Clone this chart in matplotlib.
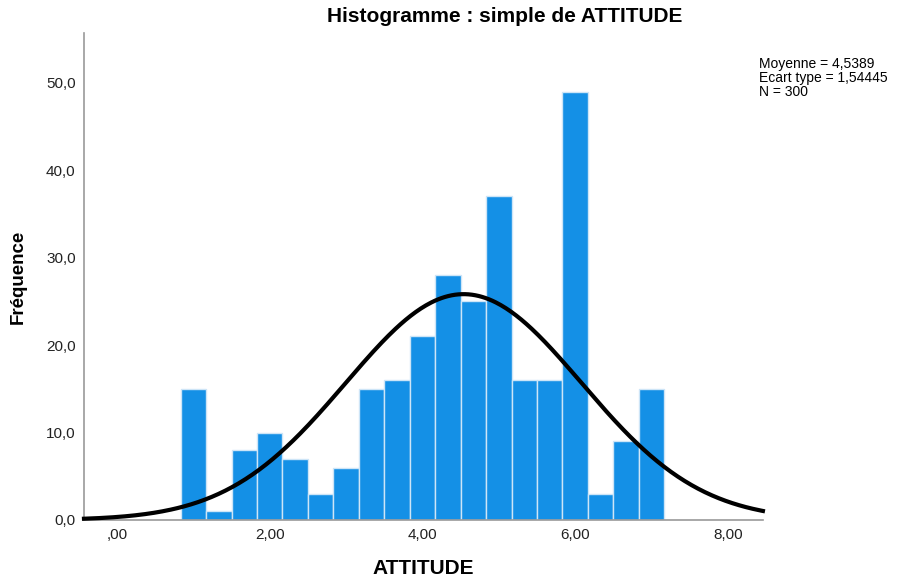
import numpy as np
import matplotlib.pyplot as plt

plt.rcParams['font.family'] = ['Liberation Sans', 'DejaVu Sans']

# bin centres (width 1/3) and counts for ATTITUDE
bin_centres = [1.0, 1.3333, 1.6667, 2.0, 2.3333, 2.6667, 3.0, 3.3333, 3.6667, 4.0,
               4.3333, 4.6667, 5.0, 5.3333, 5.6667, 6.0, 6.3333, 6.6667, 7.0]
counts = [15, 1, 8, 10, 7, 3, 6, 15, 16, 21, 28, 25, 37, 16, 16, 49, 3, 9, 15]
bin_width = 1 / 3

mean = 4.5389
sd = 1.54445
n = 300

xticks = [0, 2, 4, 6, 8]
xtick_labels = [',00', '2,00', '4,00', '6,00', '8,00']
yticks = [0, 10, 20, 30, 40, 50]
ytick_labels = ['0,0', '10,0', '20,0', '30,0', '40,0', '50,0']

fig = plt.figure(figsize=(9.05, 5.84), dpi=100)
ax = fig.add_axes([0.0928, 0.1096, 0.7502, 0.8339])

ax.bar(bin_centres, counts, width=bin_width, color='#1490e6',
       edgecolor='#cde5f7', linewidth=1.0, zorder=2)

# normal curve scaled to counts
xlim = (-0.432, 8.458)
xs = np.linspace(xlim[0], xlim[1], 400)
ys = n * bin_width / (sd * np.sqrt(2 * np.pi)) * np.exp(-0.5 * ((xs - mean) / sd) ** 2)
ax.plot(xs, ys, color='black', linewidth=3, zorder=3, clip_on=False)

ax.set_xlim(*xlim)
ax.set_ylim(0, 55.7)
ax.set_xticks(xticks)
ax.set_xticklabels(xtick_labels)
ax.set_yticks(yticks)
ax.set_yticklabels(ytick_labels)
ax.tick_params(length=0, labelsize=11, colors='#222222', pad=6)

for s in ['top', 'right']:
    ax.spines[s].set_visible(False)
for s in ['left', 'bottom']:
    ax.spines[s].set_color('#9a9a9a')
    ax.spines[s].set_linewidth(1.2)

ax.set_xlabel('ATTITUDE', fontsize=15, fontweight='bold', labelpad=12)
ax.set_ylabel('Fréquence', fontsize=13.5, fontweight='bold', labelpad=14)
fig.text(505 / 905, 1 - 16 / 584, 'Histogramme : simple de ATTITUDE',
         fontsize=15, fontweight='bold', ha='center', va='center')

fig.text(759 / 905, 1 - 57 / 584,
         'Moyenne = 4,5389\nEcart type = 1,54445\nN = 300',
         fontsize=10, va='top', ha='left', linespacing=0.98)

fig.savefig('out.png', dpi=100)
